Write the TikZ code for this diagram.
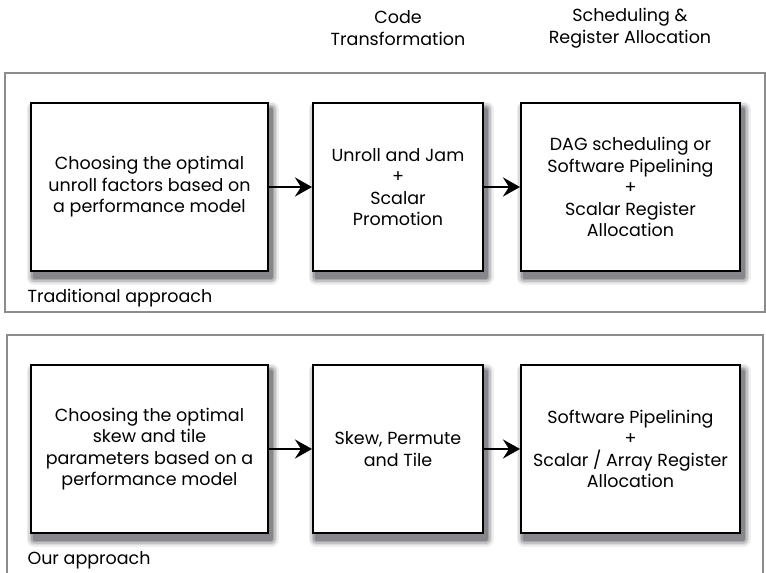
\documentclass[tikz,border=0pt]{standalone}
\usepackage{fontspec}
\setmainfont{Poppins}
\usepackage{tikz}
\usetikzlibrary{arrows.meta}

\definecolor{shadowtone}{rgb}{0.05,0.05,0.09}

\tikzset{
  ring/.style 2 args={preaction={draw=shadowtone!#1, fill=shadowtone!#1, line width=#2, line join=round,
    transform canvas={shift={(3pt,-6pt)}}}},
  stage/.style={draw=black, line width=2pt, fill=white, align=center,
    minimum height=168pt, inner sep=2pt,
    ring={7}{15pt}, ring={15}{12pt}, ring={25}{9pt}, ring={37}{6pt}, ring={50}{3pt}},
  panel/.style={draw=black!45, line width=1.3pt, fill=white},
  flow/.style={line width=2.8pt, -{Stealth[length=17pt, width=19pt, inset=6pt]}},
  txt/.style={font=\fontsize{17.5pt}{21.5pt}\selectfont}
}

\begin{document}
\begin{tikzpicture}[x=1pt, y=-1pt]
% Background
\fill[white] (0,0) rectangle (766,573);
\useasboundingbox (0,0) rectangle (766,573);
% Column headings
\node[txt, align=center] (hcode) at (398,28) {Code\\Transformation};
\node[txt, align=center] (hsched) at (630,28) {Scheduling \&\\Register Allocation};
% Panels
\draw[panel] (5,73) rectangle (765,312);
\draw[panel] (7,335) rectangle (763,590);
\node[txt, anchor=west] (tlabel) at (24,298) {Traditional approach};
\node[txt, anchor=west] (olabel) at (24,560) {Our approach};
% Traditional approach
\node[stage, txt, minimum width=237pt] (tfactor) at (149.5,187)
  {Choosing the optimal\\unroll factors based on\\a performance model};
\node[stage, txt, minimum width=170pt] (tcode) at (398,187)
  {Unroll and Jam\\+\\Scalar\\Promotion};
\node[stage, txt, minimum width=219pt] (tsched) at (630.5,187)
  {DAG scheduling or\\Software Pipelining\\+\\Scalar Register\\Allocation};
% Our approach
\node[stage, txt, minimum width=237pt] (ofactor) at (149.5,449)
  {Choosing the optimal\\skew and tile\\parameters based on a\\performance model};
\node[stage, txt, minimum width=170pt] (ocode) at (398,449)
  {Skew, Permute\\and Tile};
\node[stage, txt, minimum width=219pt] (osched) at (630.5,449)
  {Software Pipelining\\+\\Scalar / Array Register\\Allocation};
% Arrows
\foreach \a/\b in {tfactor/tcode, tcode/tsched, ofactor/ocode, ocode/osched} {
    \draw[flow] (\a) -- (\b);
}
\end{tikzpicture}
\end{document}
